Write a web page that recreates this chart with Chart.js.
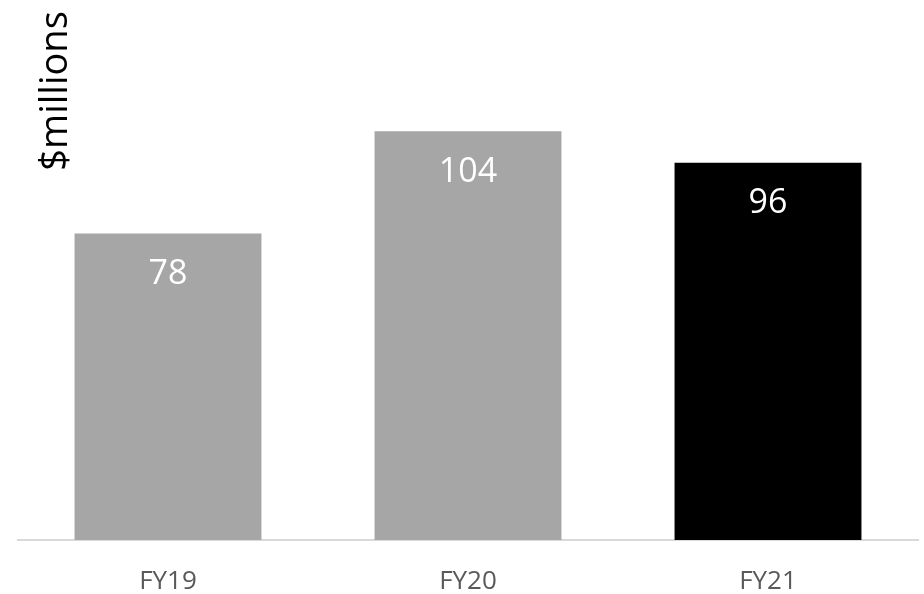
<!DOCTYPE html>
<html>
<head>
<meta charset="utf-8">
<script src="https://cdn.jsdelivr.net/npm/chart.js@4"></script>
<style>
  html, body { margin: 0; padding: 0; background: #fff; }
  #wrap { width: 924px; height: 594px; position: relative; }
</style>
</head>
<body>
<div id="wrap"><canvas id="myChart"></canvas></div>
<script>
const categories = ['FY19', 'FY20', 'FY21'];
const revenue = [78, 104, 96];
const barColors = ['#a6a6a6', '#a6a6a6', '#000000'];
const unitLabel = '$millions';

// values drawn inside the top of each bar
const valueLabels = {
	id: 'valueLabels',
	afterDatasetsDraw(chart) {
		const ctx = chart.ctx;
		const meta = chart.getDatasetMeta(0);
		ctx.save();
		ctx.fillStyle = '#ffffff';
		ctx.font = '34px "Open Sans"';
		ctx.textAlign = 'center';
		ctx.textBaseline = 'middle';
		meta.data.forEach((bar, i) => {
			ctx.fillText(String(revenue[i]), bar.x, bar.y + 41);
		});
		ctx.restore();
	}
};

// rotated unit label in the top left corner
const unitTitle = {
	id: 'unitTitle',
	afterDraw(chart) {
		const ctx = chart.ctx;
		ctx.save();
		ctx.translate(56, 91);
		ctx.rotate(-Math.PI / 2);
		ctx.fillStyle = '#000000';
		ctx.font = '38px "Open Sans"';
		ctx.textAlign = 'center';
		ctx.textBaseline = 'middle';
		ctx.fillText(unitLabel, 0, 0);
		ctx.restore();
	}
};

new Chart('myChart', {
	type: 'bar',
	data: {
		labels: categories,
		datasets: [{
			data: revenue,
			backgroundColor: barColors,
			barPercentage: 0.623,
			categoryPercentage: 1.0
		}]
	},
	options: {
		responsive: true,
		maintainAspectRatio: false,
		animation: false,
		layout: {
			padding: { left: 18, right: 6, top: 29, bottom: 0 }
		},
		plugins: {
			legend: { display: false },
			tooltip: { enabled: false }
		},
		scales: {
			x: {
				grid: { display: false, drawTicks: false },
				border: { display: true, color: '#d9d9d9', width: 2 },
				ticks: {
					color: '#595959',
					padding: 26,
					font: { family: 'Open Sans', size: 26 }
				},
				afterFit(scale) { scale.height = 54; }
			},
			y: {
				display: false,
				min: 0,
				max: 130
			}
		}
	},
	plugins: [valueLabels, unitTitle]
});
</script>
</body>
</html>
